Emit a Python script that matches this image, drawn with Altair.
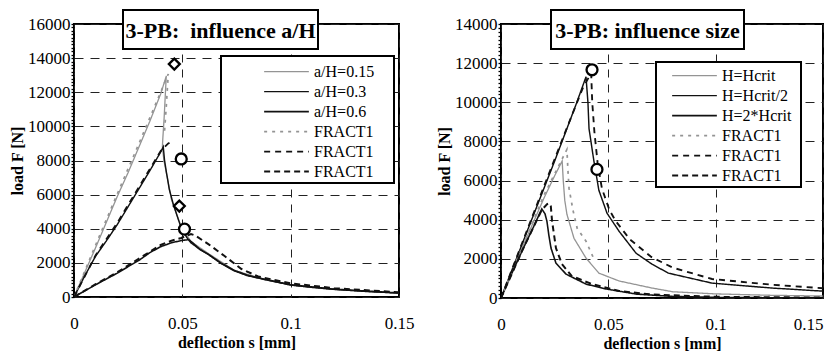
import altair as alt
import pandas as pd

GRAY = "#949494"
BLACK = "#111111"
FONT = "Liberation Serif"

# ---------------- Left panel: influence a/H ----------------
L_SERIES = ["a/H=0.15", "a/H=0.3", "a/H=0.6", "FRACT1 (0.15)", "FRACT1 (0.3)", "FRACT1 (0.6)"]

L_AH015_S = [0, 0.005, 0.01, 0.015, 0.02, 0.025, 0.03, 0.035, 0.04, 0.0426, 0.0422, 0.0416, 0.041, 0.0408,
             0.0415, 0.0426, 0.045, 0.0495, 0.054, 0.062, 0.074, 0.087, 0.1, 0.12, 0.15]
L_AH015_F = [0, 1450, 2900, 4400, 5900, 7300, 8800, 10300, 11900, 12950, 12000, 10500, 9300, 8800,
             8000, 7300, 5700, 4100, 3250, 2550, 1560, 1060, 690, 440, 220]

L_AH03_S = [0, 0.005, 0.01, 0.015, 0.02, 0.025, 0.03, 0.035, 0.04, 0.0412, 0.0418, 0.0426, 0.044, 0.0458,
            0.048, 0.0495, 0.052, 0.054, 0.058, 0.062, 0.068, 0.074, 0.08, 0.087, 0.1, 0.11, 0.12, 0.135, 0.15]
L_AH03_F = [0, 1250, 2400, 3300, 4250, 5300, 6350, 7400, 8500, 8800, 8000, 7350, 6300, 5450,
            4600, 4050, 3500, 3170, 2800, 2500, 1950, 1530, 1250, 1050, 700, 560, 450, 320, 230]

L_AH06_S = [0, 0.005, 0.01, 0.015, 0.02, 0.025, 0.03, 0.035, 0.04, 0.045, 0.05, 0.053, 0.055, 0.058,
            0.062, 0.068, 0.074, 0.08, 0.087, 0.1, 0.12, 0.15]
L_AH06_F = [0, 360, 720, 1060, 1400, 1780, 2150, 2600, 2950, 3180, 3320, 3360, 3150, 2800,
            2500, 1980, 1560, 1280, 1070, 720, 460, 240]

L_FR015_S = [0, 0.01, 0.02, 0.03, 0.04, 0.0435, 0.0425, 0.0417]
L_FR015_F = [0, 3050, 6050, 9000, 12000, 13070, 11000, 9550]

L_FR03_S = [0, 0.01, 0.02, 0.03, 0.04, 0.0435, 0.0458]
L_FR03_F = [0, 2450, 4350, 6450, 8550, 9000, 9140]

L_FR06_S = [0, 0.01, 0.02, 0.03, 0.04, 0.045, 0.0495, 0.054, 0.056, 0.062, 0.0695, 0.0773, 0.085, 0.1, 0.12, 0.15]
L_FR06_F = [0, 750, 1450, 2250, 3050, 3300, 3460, 3690, 3600, 3100, 2400, 1640, 1200, 800, 520, 280]

L_MARK_S = [0.0463, 0.0486, 0.0495, 0.051]
L_MARK_F = [13650, 5330, 8090, 3980]
L_MARK_SHAPE = ["diamond", "diamond", "circle", "circle"]

# ---------------- Right panel: influence size ----------------
R_SERIES = ["H=Hcrit", "H=Hcrit/2", "H=2*Hcrit", "FRACT1 (Hcrit)", "FRACT1 (Hcrit/2)", "FRACT1 (2*Hcrit)"]

R_H1_S = [0, 0.005, 0.01, 0.015, 0.02, 0.025, 0.0285, 0.029, 0.0297, 0.0307, 0.034, 0.0396, 0.0456,
          0.055, 0.0703, 0.08, 0.1, 0.125, 0.15]
R_H1_F = [0, 1300, 2600, 3850, 5100, 6250, 7000, 6000, 5000, 4280, 3050, 2040, 1270,
          870, 510, 320, 210, 140, 100]

R_H05_S = [0, 0.005, 0.01, 0.015, 0.02, 0.025, 0.03, 0.035, 0.0396, 0.0405, 0.041, 0.0433, 0.0456, 0.0494,
           0.055, 0.0629, 0.0703, 0.078, 0.0983, 0.126, 0.15]
R_H05_F = [0, 1400, 2800, 4200, 5600, 7000, 8450, 9900, 11300, 10000, 8660, 6980, 5500, 4330,
           3410, 2290, 1730, 1270, 760, 510, 350]

R_H2_S = [0, 0.005, 0.01, 0.015, 0.019, 0.0205, 0.0214, 0.0223, 0.0233, 0.0256, 0.0303, 0.0396, 0.049,
          0.063, 0.08, 0.1, 0.15]
R_H2_F = [0, 1250, 2450, 3600, 4550, 4300, 3920, 3200, 2550, 1780, 1220, 710, 460,
          200, 80, 30, 0]

R_FR1_S = [0, 0.01, 0.02, 0.0307, 0.0312, 0.0317, 0.0335, 0.0355, 0.0396, 0.0433]
R_FR1_F = [0, 2650, 5250, 7590, 6500, 5600, 4500, 3560, 2900, 1990]

R_FR05_S = [0, 0.01, 0.02, 0.03, 0.038, 0.042, 0.0425, 0.0435, 0.045, 0.047, 0.0505, 0.0535, 0.06, 0.07,
            0.08, 0.0983, 0.126, 0.15]
R_FR05_F = [0, 2850, 5700, 8500, 10700, 11500, 10000, 8500, 6900, 5600, 4500, 3920, 3000, 2100,
            1550, 970, 680, 500]

R_FR2_S = [0, 0.01, 0.019, 0.0215, 0.0225, 0.0232, 0.0238, 0.0256, 0.0284, 0.033, 0.0424, 0.055, 0.07, 0.1, 0.15]
R_FR2_F = [0, 2450, 4500, 4800, 4840, 4700, 3920, 2550, 1730, 1120, 710, 360, 180, 60, 20]

R_MARK_S = [0.0424, 0.0447]
R_MARK_F = [11660, 6570]
R_MARK_SHAPE = ["circle", "circle"]

X_TICKS = [0, 0.05, 0.1, 0.15]


def long_df(names, pairs, key):
    rows = []
    for name, (s, f) in zip(names, pairs):
        for i, (a, b) in enumerate(zip(s, f)):
            rows.append({key: name, "s": a, "F": b, "i": i})
    return pd.DataFrame(rows)


def panel(key, names, pairs, marks, ymax, width, height, title, title_box, legend_box, legend_xy, flush_last):
    df = long_df(names, pairs, key)
    colors = [GRAY, BLACK, BLACK, GRAY, BLACK, BLACK]
    dashes = [[1, 0], [1, 0], [1, 0], [3, 5], [6, 5], [6, 4]]
    widths = [1.3, 2.0, 2.6, 1.3, 2.0, 3.0]
    lg = alt.Legend(
        orient="none", legendX=legend_xy[0], legendY=legend_xy[1], title=None,
        symbolType="stroke", symbolSize=2000, clipHeight=19.2, rowPadding=0,
        labelFont=FONT, labelFontSize=16, labelColor="black", labelOffset=4,
        padding=0, labelLimit=300,
        labelExpr="indexof(datum.label, 'FRACT1') === 0 ? 'FRACT1' : datum.label",
    )
    yticks = [int(v) for v in range(0, ymax + 1, 200)]
    xkw = {}
    if flush_last:
        xkw["labelAlign"] = {"condition": {"test": "datum.value > 0.14", "value": "right"}, "value": "center"}
    xaxis = alt.Axis(values=X_TICKS, title="deflection s [mm]", ticks=False,
                     labelExpr="format(datum.value, '.2~f')",
                     labelFlush=False, labelPadding=18, titlePadding=3,
                     labelFont=FONT, labelFontSize=17, labelColor="black",
                     titleFont=FONT, titleFontSize=16, titleFontWeight="bold", titleColor="black",
                     gridDash=[8, 7], gridColor="#222", gridWidth=1, domain=False, **xkw)
    yaxis = alt.Axis(values=yticks, format="d", title="load F [N]", labelOverlap=False,
                     labelExpr="datum.value % 2000 === 0 ? datum.label : ''",
                     labelFont=FONT, labelFontSize=17, labelColor="black",
                     titleFont=FONT, titleFontSize=16, titleFontWeight="bold", titleColor="black",
                     tickSize=3, tickWidth=1.3, tickColor="black", labelPadding=1, titlePadding=2,
                     gridDash=[9, 7], gridColor="#222", gridWidth=1, domain=False,
                     gridOpacity={"condition": {"test": "datum.value % 2000 === 0", "value": 1}, "value": 0})
    xs = alt.Scale(domain=[0, 0.15], nice=False)
    ys = alt.Scale(domain=[0, ymax], nice=False)
    lines = alt.Chart(df).mark_line(clip=True).encode(
        x=alt.X("s:Q", scale=xs, axis=xaxis),
        y=alt.Y("F:Q", scale=ys, axis=yaxis),
        color=alt.Color(f"{key}:N", scale=alt.Scale(domain=names, range=colors), sort=names, legend=lg),
        strokeDash=alt.StrokeDash(f"{key}:N", scale=alt.Scale(domain=names, range=dashes), sort=names, legend=lg),
        strokeWidth=alt.StrokeWidth(f"{key}:N", scale=alt.Scale(domain=names, range=widths), sort=names, legend=lg),
        order="i:Q",
    )
    mdf = pd.DataFrame({"s": marks[0], "F": marks[1], "shape": marks[2]})
    pts = alt.Chart(mdf).mark_point(filled=False, fill="white", stroke="black", strokeWidth=2.3,
                                    size=120, opacity=1).encode(
        x=alt.X("s:Q", scale=xs, axis=xaxis),
        y=alt.Y("F:Q", scale=ys, axis=yaxis),
        shape=alt.Shape("shape:N", scale=alt.Scale(domain=["diamond", "circle"], range=["diamond", "circle"]),
                        legend=None),
    )
    one = pd.DataFrame({"a": [0]})
    lbox = alt.Chart(one).mark_rect(fill="white", stroke="black", strokeWidth=2).encode(
        x=alt.value(legend_box[0]), x2=alt.value(legend_box[1]),
        y=alt.value(legend_box[2]), y2=alt.value(legend_box[3]))
    tbox = alt.Chart(one).mark_rect(fill="white", stroke="black", strokeWidth=2).encode(
        x=alt.value(title_box[0]), x2=alt.value(title_box[1]),
        y=alt.value(title_box[2]), y2=alt.value(title_box[3]))
    ttext = alt.Chart(one).mark_text(font=FONT, fontSize=22, fontWeight="bold", color="black",
                                     baseline="middle", align="center").encode(
        x=alt.value((title_box[0] + title_box[1]) / 2),
        y=alt.value((title_box[2] + title_box[3]) / 2 + 1),
        text=alt.value(title))
    return alt.layer(lines, pts, lbox, tbox, ttext).properties(width=width, height=height)


left = panel(
    "seriesL", L_SERIES,
    [(L_AH015_S, L_AH015_F), (L_AH03_S, L_AH03_F), (L_AH06_S, L_AH06_F),
     (L_FR015_S, L_FR015_F), (L_FR03_S, L_FR03_F), (L_FR06_S, L_FR06_F)],
    (L_MARK_S, L_MARK_F, L_MARK_SHAPE), 16000, 325, 273,
    "3-PB:\u00a0 influence a/H", (49, 244, -14, 25), (147, 320, 32, 159), (189, 38), False,
)
right = panel(
    "seriesR", R_SERIES,
    [(R_H1_S, R_H1_F), (R_H05_S, R_H05_F), (R_H2_S, R_H2_F),
     (R_FR1_S, R_FR1_F), (R_FR05_S, R_FR05_F), (R_FR2_S, R_FR2_F)],
    (R_MARK_S, R_MARK_F, R_MARK_SHAPE), 14000, 322, 274,
    "3-PB: influence size", (50, 243, -14, 25), (155, 300, 38, 163), (170, 42), True,
)

chart = alt.hconcat(left, right, spacing=20).resolve_scale(
    color="independent", strokeDash="independent", strokeWidth="independent", shape="independent"
).properties(
    padding=0, background="white"
).configure_view(
    stroke="black", strokeWidth=2
)

chart.save("out.html", embed_options={"renderer": "svg", "actions": False})
